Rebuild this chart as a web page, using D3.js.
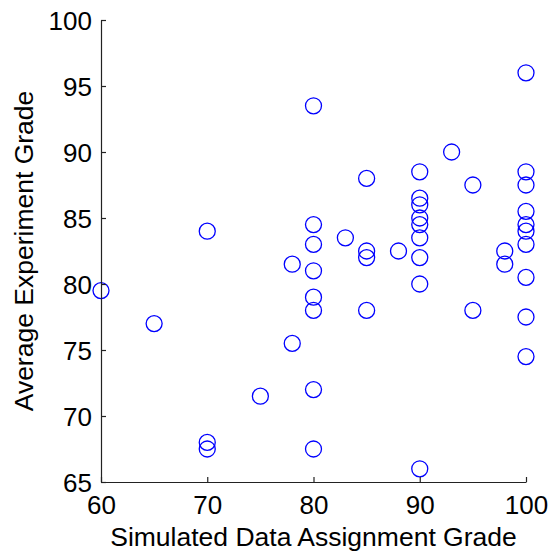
<!DOCTYPE html>
<html>
<head>
<meta charset="utf-8">
<script src="https://cdn.jsdelivr.net/npm/d3@7"></script>
<style>
  html, body { margin: 0; padding: 0; background: #fff; }
  svg { display: block; font-family: "Liberation Sans", Arial, sans-serif; }
</style>
</head>
<body>
<svg id="chart" width="551" height="552"></svg>
<script>
// Assignment grade (x) and average experiment grade (y) per student
const assignmentGrade = [
  60, 65, 70, 70, 70, 75, 78, 78,
  80, 80, 80, 80, 80, 80, 80, 80,
  83, 85, 85, 85, 85, 88,
  90, 90, 90, 90, 90, 90, 90, 90, 90,
  93, 95, 95, 98, 98,
  100, 100, 100, 100, 100, 100, 100, 100, 100, 100
];
const experimentGrade = [
  79.5, 77, 84, 68, 67.5, 71.5, 81.5, 75.5,
  93.5, 84.5, 83, 81, 79, 78, 72, 67.5,
  83.5, 88, 82.5, 82, 78, 82.5,
  88.5, 86.5, 86, 85, 84.5, 83.5, 82, 80, 66,
  90, 87.5, 78, 82.5, 81.5,
  96, 88.5, 87.5, 85.5, 84.5, 84, 83, 80.5, 77.5, 74.5
];
const xTicks = [60, 70, 80, 90, 100];
const yTicks = [65, 70, 75, 80, 85, 90, 95, 100];
const xLabel = "Simulated Data Assignment Grade";
const yLabel = "Average Experiment Grade";

const svg = d3.select("#chart");
const margin = { left: 101, right: 25, top: 20, bottom: 70 };
const W = 551, H = 552;

const x = d3.scaleLinear().domain([60, 100]).range([margin.left, W - margin.right]);
const y = d3.scaleLinear().domain([65, 100]).range([H - margin.bottom, margin.top]);

const points = assignmentGrade.map((v, i) => ({ x: v, y: experimentGrade[i] }));

// Markers
svg.append("g")
  .selectAll("circle")
  .data(points)
  .join("circle")
  .attr("cx", d => x(d.x))
  .attr("cy", d => y(d.y))
  .attr("r", 8)
  .attr("fill", "none")
  .attr("stroke", "#0000ff")
  .attr("stroke-width", 1.3);

// Bottom axis with inward ticks
const xAxis = svg.append("g")
  .attr("transform", `translate(0,${y(65)})`)
  .call(d3.axisBottom(x).tickValues(xTicks).tickSizeInner(-5).tickSizeOuter(0).tickPadding(13));

// Left axis with inward ticks
const yAxis = svg.append("g")
  .attr("transform", `translate(${x(60)},0)`)
  .call(d3.axisLeft(y).tickValues(yTicks).tickSizeInner(-5).tickSizeOuter(0).tickPadding(9));

[xAxis, yAxis].forEach(g => {
  g.select(".domain").attr("stroke", "#222").attr("stroke-width", 1.2);
  g.selectAll(".tick line").attr("stroke", "#222").attr("stroke-width", 1.2);
  g.selectAll(".tick text")
    .attr("fill", "#000")
    .style("font-size", "26px")
    .style("font-family", "'Liberation Sans', Arial, sans-serif");
});
xAxis.selectAll(".tick text").attr("dy", null).attr("y", 0)
  .attr("dominant-baseline", "auto")
  .attr("transform", "translate(0,32)");
yAxis.selectAll(".tick text").attr("dy", "0.36em");

// Axis titles
svg.append("text")
  .attr("x", (x(60) + x(100)) / 2)
  .attr("y", 546)
  .attr("text-anchor", "middle")
  .style("font-size", "26.5px")
  .text(xLabel);

svg.append("text")
  .attr("transform", `translate(33,${(y(65) + y(100)) / 2}) rotate(-90)`)
  .attr("text-anchor", "middle")
  .style("font-size", "26.5px")
  .text(yLabel);
</script>
</body>
</html>
